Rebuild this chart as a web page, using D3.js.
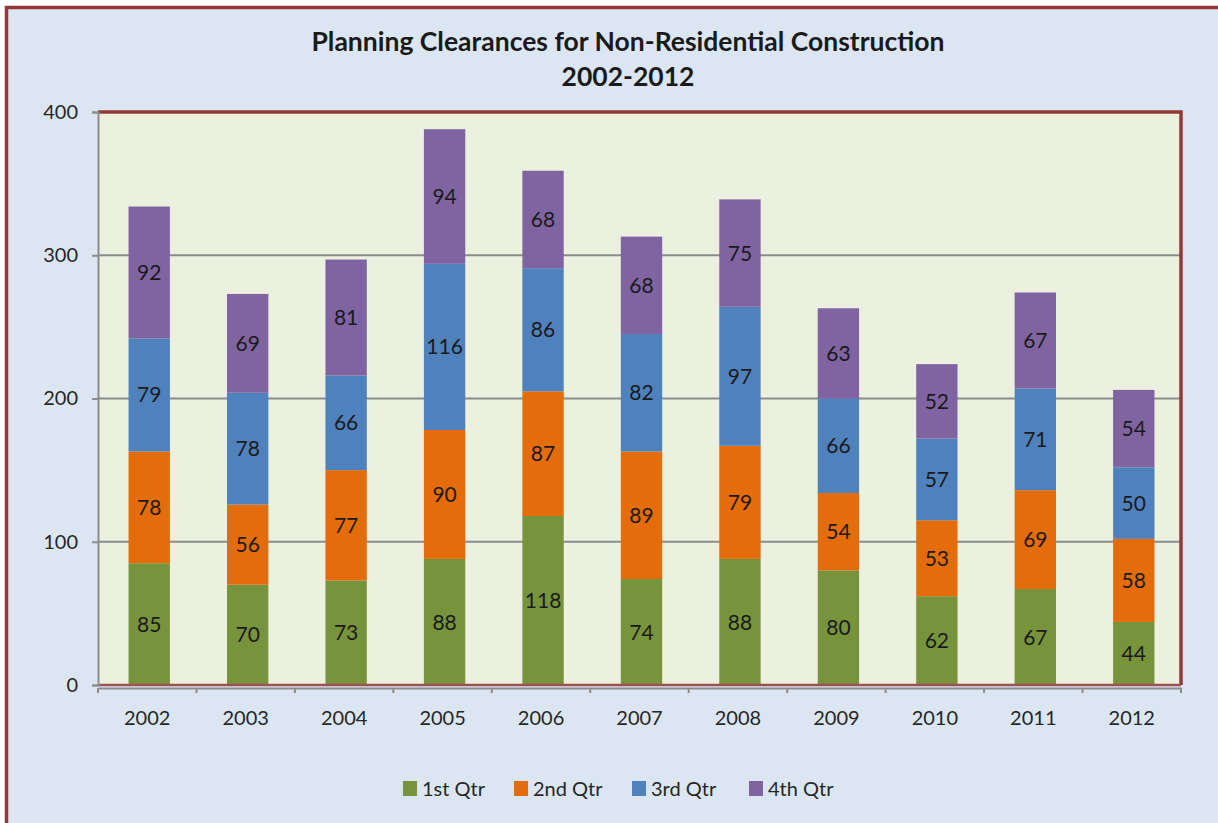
<!DOCTYPE html>
<html><head><meta charset="utf-8">
<script src="https://cdn.jsdelivr.net/npm/d3@7"></script>
<style>body{margin:0;background:#fff;}svg{display:block;}</style>
</head><body>
<svg id="c" width="1218" height="823"></svg>
<script>
const years = ["2002","2003","2004","2005","2006","2007","2008","2009","2010","2011","2012"];
const seriesNames = ["1st Qtr","2nd Qtr","3rd Qtr","4th Qtr"];
const q1 = [85,70,73,88,118,74,88,80,62,67,44];
const q2 = [78,56,77,90,87,89,79,54,53,69,58];
const q3 = [79,78,66,116,86,82,97,66,57,71,50];
const q4 = [92,69,81,94,68,68,75,63,52,67,54];
const yTicks = [0,100,200,300,400];
const colors = ["#77933c","#e46c0a","#4f81bd","#8064a2"];
const titleLines = ["Planning Clearances for Non-Residential Construction","2002-2012"];

const font = "Lato, 'Open Sans', 'Liberation Sans', sans-serif";
const svg = d3.select("#c");
svg.append("rect").attr("x",0).attr("y",0).attr("width",1218).attr("height",823).attr("fill","#fff");
svg.append("rect").attr("x",6.5).attr("y",7.5).attr("width",1230).attr("height",830)
  .attr("fill","#dce6f2").attr("stroke","#953735").attr("stroke-width",3.5);

const L=98, R=1181, T=112, B=685;
const x = d3.scaleBand().domain(years).range([L,R]).paddingInner(0.58).paddingOuter(0.29);
const barShift = 2;
const y = d3.scaleLinear().domain([0,400]).range([B,T]);

svg.append("rect").attr("x",L).attr("y",T).attr("width",R-L).attr("height",B-T).attr("fill","#ebf1de");

// gridlines
svg.append("g").selectAll("line").data(yTicks.filter(d=>d>0&&d<400)).join("line")
  .attr("x1",L).attr("x2",R).attr("y1",d=>y(d)).attr("y2",d=>y(d))
  .attr("stroke","#8c8c8c").attr("stroke-width",2);

// stack
const rows = years.map((yr,i)=>({year:yr,"1st Qtr":q1[i],"2nd Qtr":q2[i],"3rd Qtr":q3[i],"4th Qtr":q4[i]}));
const stack = d3.stack().keys(seriesNames)(rows);
const g = svg.append("g").attr("transform",`translate(${barShift},0)`);
stack.forEach((s,si)=>{
  g.selectAll(null).data(s).join("rect")
    .attr("x",d=>x(d.data.year)).attr("width",x.bandwidth())
    .attr("y",d=>y(d[1])).attr("height",d=>y(d[0])-y(d[1]))
    .attr("fill",colors[si]);
  g.selectAll(null).data(s).join("text")
    .attr("x",d=>x(d.data.year)+x.bandwidth()/2)
    .attr("y",d=>(y(d[0])+y(d[1]))/2)
    .attr("dy","0.36em").attr("text-anchor","middle")
    .attr("font-family",font).attr("font-size",21).attr("fill","#1a1a1a")
    .text(d=>d[1]-d[0]);
});

// plot border
svg.append("path").attr("d",`M${L},${T}H${R}V${B}`).attr("fill","none").attr("stroke","#953735").attr("stroke-width",3.5);
svg.append("line").attr("x1",L).attr("x2",R).attr("y1",B).attr("y2",B).attr("stroke","#a05050").attr("stroke-width",2.5);

// y axis
const ya = svg.append("g").attr("transform",`translate(${L},0)`)
  .call(d3.axisLeft(y).tickValues(yTicks).tickSize(6).tickPadding(14));
ya.select(".domain").attr("stroke","#8c8c8c").attr("stroke-width",2);
ya.selectAll(".tick line").attr("stroke","#8c8c8c").attr("stroke-width",2);
ya.selectAll("text").attr("font-family",font).attr("font-size",20).attr("fill","#262626");

// x axis
const xa = svg.append("g").attr("transform",`translate(0,${B+3})`)
  .call(d3.axisBottom(x).tickSize(0).tickPadding(23));
xa.select(".domain").attr("stroke","#8c8c8c").attr("stroke-width",2);
xa.selectAll("text").attr("font-family",font).attr("font-size",20).attr("fill","#262626");
svg.append("g").selectAll("line").data(d3.range(years.length+1)).join("line")
  .attr("x1",i=>L+i*(R-L)/years.length).attr("x2",i=>L+i*(R-L)/years.length)
  .attr("y1",B+3).attr("y2",B+8).attr("stroke","#8c8c8c").attr("stroke-width",2);

// title
svg.append("g").selectAll("text").data(titleLines).join("text")
  .attr("x",628).attr("y",(d,i)=>51+i*35).attr("text-anchor","middle")
  .attr("font-family",font).attr("font-weight","bold").attr("font-size",26.5).attr("fill","#1a1a1a")
  .text(d=>d);

// legend
const legX = [403,514,632,749];
const lg = svg.append("g");
seriesNames.forEach((n,i)=>{
  lg.append("rect").attr("x",legX[i]).attr("y",781).attr("width",14).attr("height",15).attr("fill",colors[i]);
  lg.append("text").attr("x",legX[i]+19).attr("y",789).attr("dy","0.36em")
    .attr("font-family",font).attr("font-size",20).attr("fill","#262626").text(n);
});
</script>
</body></html>
